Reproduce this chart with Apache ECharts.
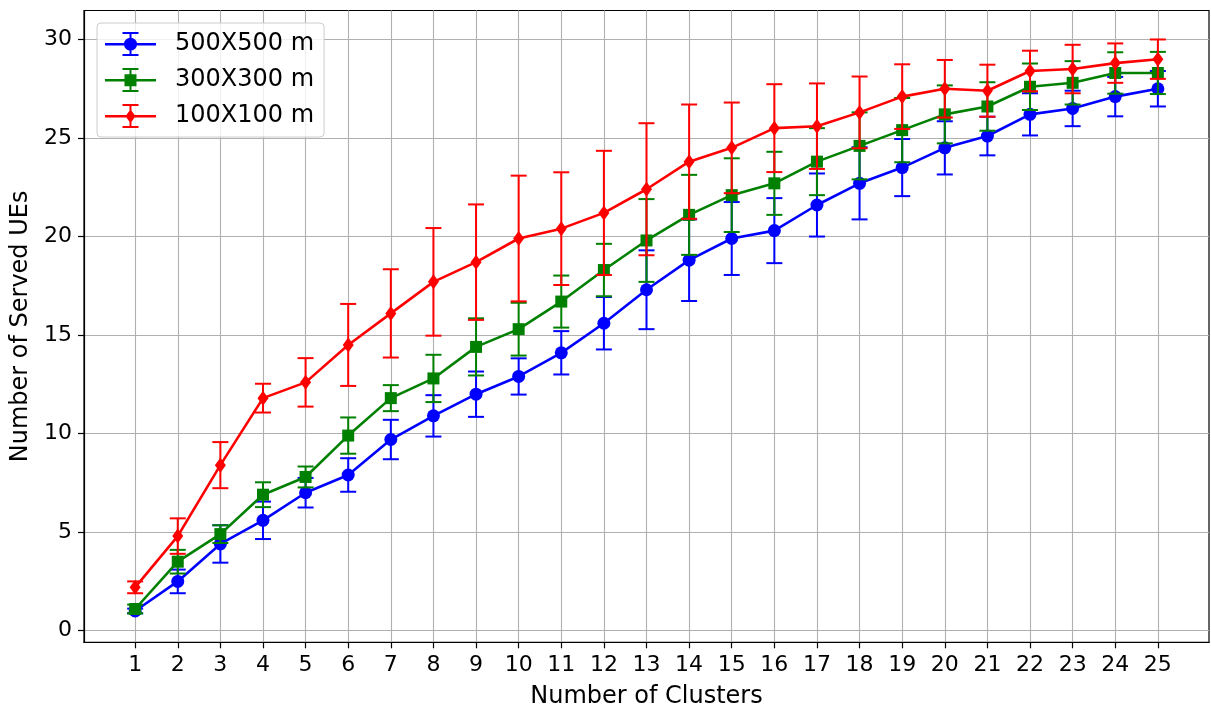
<!DOCTYPE html>
<html>
<head>
<meta charset="utf-8">
<title>Served UEs vs Number of Clusters</title>
<script src="https://cdn.jsdelivr.net/npm/echarts@6/dist/echarts.min.js"></script>
<style>
  html, body { margin: 0; padding: 0; background: #ffffff; }
  #chart { width: 1211px; height: 711px; }
</style>
</head>
<body>
<div id="chart"></div>
<script>
// Number of clusters on the x axis
const clusters = [1, 2, 3, 4, 5, 6, 7, 8, 9, 10, 11, 12, 13, 14, 15, 16, 17, 18, 19, 20, 21, 22, 23, 24, 25];

// Mean number of served UEs and its spread, per area size
const area500Mean = [1.0, 2.5, 4.4, 5.6, 7.0, 7.9, 9.7, 10.9, 12.0, 12.9, 14.1, 15.6, 17.3, 18.8, 19.9, 20.3, 21.6, 22.7, 23.5, 24.5, 25.1, 26.2, 26.5, 27.1, 27.5];
const area500Err  = [0.12, 0.6, 0.95, 0.95, 0.75, 0.85, 1.0, 1.05, 1.15, 0.92, 1.1, 1.33, 2.0, 2.07, 1.85, 1.65, 1.6, 1.83, 1.45, 1.35, 0.98, 1.07, 0.9, 1.0, 0.9];

const area300Mean = [1.1, 3.5, 4.9, 6.9, 7.8, 9.9, 11.8, 12.8, 14.4, 15.3, 16.7, 18.3, 19.8, 21.1, 22.1, 22.7, 23.8, 24.6, 25.4, 26.2, 26.6, 27.6, 27.8, 28.3, 28.3];
const area300Err  = [0.22, 0.6, 0.45, 0.63, 0.53, 0.92, 0.66, 1.2, 1.45, 1.34, 1.32, 1.33, 2.1, 2.03, 1.87, 1.6, 1.7, 1.7, 1.63, 1.47, 1.23, 1.18, 1.1, 1.05, 1.07];

const area100Mean = [2.2, 4.8, 8.4, 11.8, 12.6, 14.5, 16.1, 17.7, 18.7, 19.9, 20.4, 21.2, 22.4, 23.8, 24.5, 25.5, 25.6, 26.3, 27.1, 27.5, 27.4, 28.4, 28.5, 28.8, 29.0];
const area100Err  = [0.3, 0.9, 1.17, 0.73, 1.23, 2.08, 2.24, 2.73, 2.93, 3.19, 2.86, 3.15, 3.35, 2.9, 2.3, 2.23, 2.17, 1.82, 1.64, 1.46, 1.32, 1.03, 1.23, 1.0, 1.0];

const seriesNames = ['500X500 m', '300X300 m', '100X100 m'];
const seriesColors = ['#0000ff', '#008000', '#ff0000'];
const xTicks = clusters;
const yTicks = [0, 5, 10, 15, 20, 25, 30];

const FONT = 'DejaVu Sans';
const chart = echarts.init(document.getElementById('chart'), null, { renderer: 'canvas' });

// Legend glyphs: horizontal line, vertical error bar with caps, and the marker
const barPart = 'M0 11 H51 V13.4 H0 Z M24.5 0 H26.5 V24 H24.5 Z M17.5 0 H33.5 V2 H17.5 Z M17.5 22 H33.5 V24 H17.5 Z ';
const iconCircle = 'path://' + barPart + 'M19 12.2 A6.5 6.5 0 1 1 32 12.2 A6.5 6.5 0 1 1 19 12.2 Z';
const iconSquare = 'path://' + barPart + 'M19.5 6.2 H31.5 V18.2 H19.5 Z';
const iconDiamond = 'path://' + barPart + 'M25.5 5.2 L30.5 12.2 L25.5 19.2 L20.5 12.2 Z';

function errorSeries(name, color, mean, err, z) {
  return {
    name: name,
    type: 'custom',
    z: z,
    silent: true,
    itemStyle: { color: color },
    data: clusters.map((c, i) => [c, mean[i], err[i]]),
    encode: { x: 0, y: 1 },
    renderItem: function (params, api) {
      const x = api.value(0), m = api.value(1), e = api.value(2);
      const top = api.coord([x, m + e]);
      const bot = api.coord([x, m - e]);
      const cap = 8;
      const style = { stroke: color, lineWidth: 2 };
      return {
        type: 'group',
        children: [
          { type: 'line', shape: { x1: top[0], y1: top[1], x2: bot[0], y2: bot[1] }, style: style },
          { type: 'line', shape: { x1: top[0] - cap, y1: top[1], x2: top[0] + cap, y2: top[1] }, style: style },
          { type: 'line', shape: { x1: bot[0] - cap, y1: bot[1], x2: bot[0] + cap, y2: bot[1] }, style: style }
        ]
      };
    }
  };
}

function lineSeries(name, color, mean, symbol, size, z) {
  return {
    name: name,
    type: 'line',
    z: z,
    data: clusters.map((c, i) => [c, mean[i]]),
    symbol: symbol,
    symbolSize: size,
    showAllSymbol: true,
    lineStyle: { color: color, width: 2.6 },
    itemStyle: { color: color, borderWidth: 0 },
    emphasis: { disabled: true },
    animation: false
  };
}

const option = {
  animation: false,
  backgroundColor: '#ffffff',
  grid: {
    left: 84, right: 2, top: 10.5, bottom: 68.7,
    outerBoundsMode: 'none',
    show: true, borderColor: '#000000', borderWidth: 1.2,
    backgroundColor: 'transparent', containLabel: false
  },
  legend: {
    orient: 'vertical',
    left: 97, top: 23,
    padding: [7.5, 10, 7.5, 8],
    itemGap: 9,
    itemWidth: 51,
    itemHeight: 24,
    backgroundColor: 'rgba(255,255,255,0.8)',
    borderColor: '#cccccc',
    borderWidth: 1,
    borderRadius: 4,
    itemStyle: { borderWidth: 0 },
    textStyle: { fontFamily: FONT, fontSize: 24, color: '#000000', padding: [0, 0, 0, 14], lineHeight: 27 },
    selectedMode: false,
    data: [
      { name: seriesNames[0], icon: iconCircle, itemStyle: { color: seriesColors[0] } },
      { name: seriesNames[1], icon: iconSquare, itemStyle: { color: seriesColors[1] } },
      { name: seriesNames[2], icon: iconDiamond, itemStyle: { color: seriesColors[2] } }
    ]
  },
  xAxis: {
    type: 'value',
    min: -0.2, max: 26.2,
    name: 'Number of Clusters',
    nameLocation: 'middle',
    nameGap: 42,
    nameTextStyle: { fontFamily: FONT, fontSize: 24, color: '#000000' },
    axisLine: { show: true, onZero: false, lineStyle: { color: '#000000', width: 1.2 } },
    axisTick: { show: true, length: 6, customValues: xTicks, lineStyle: { color: '#000000', width: 1.2 } },
    axisLabel: { customValues: xTicks, margin: 12, fontFamily: FONT, fontSize: 22, color: '#000000' },
    splitLine: { show: true, lineStyle: { color: '#b0b0b0', width: 1.1 } }
  },
  yAxis: {
    type: 'value',
    min: -0.59, max: 31.47,
    name: 'Number of Served UEs',
    nameLocation: 'middle',
    nameGap: 46,
    nameTextStyle: { fontFamily: FONT, fontSize: 24, color: '#000000' },
    axisLine: { show: true, onZero: false, lineStyle: { color: '#000000', width: 1.2 } },
    axisTick: { show: true, length: 6, customValues: yTicks, lineStyle: { color: '#000000', width: 1.2 } },
    axisLabel: { customValues: yTicks, margin: 12, fontFamily: FONT, fontSize: 22, color: '#000000' },
    splitLine: { show: true, lineStyle: { color: '#b0b0b0', width: 1.1 } }
  },
  series: [
    errorSeries(seriesNames[0], seriesColors[0], area500Mean, area500Err, 2),
    lineSeries(seriesNames[0], seriesColors[0], area500Mean, 'circle', 13, 3),
    errorSeries(seriesNames[1], seriesColors[1], area300Mean, area300Err, 4),
    lineSeries(seriesNames[1], seriesColors[1], area300Mean, 'rect', 12, 5),
    errorSeries(seriesNames[2], seriesColors[2], area100Mean, area100Err, 6),
    lineSeries(seriesNames[2], seriesColors[2], area100Mean, 'diamond', [11, 15], 7)
  ]
};

chart.setOption(option);
</script>
</body>
</html>
